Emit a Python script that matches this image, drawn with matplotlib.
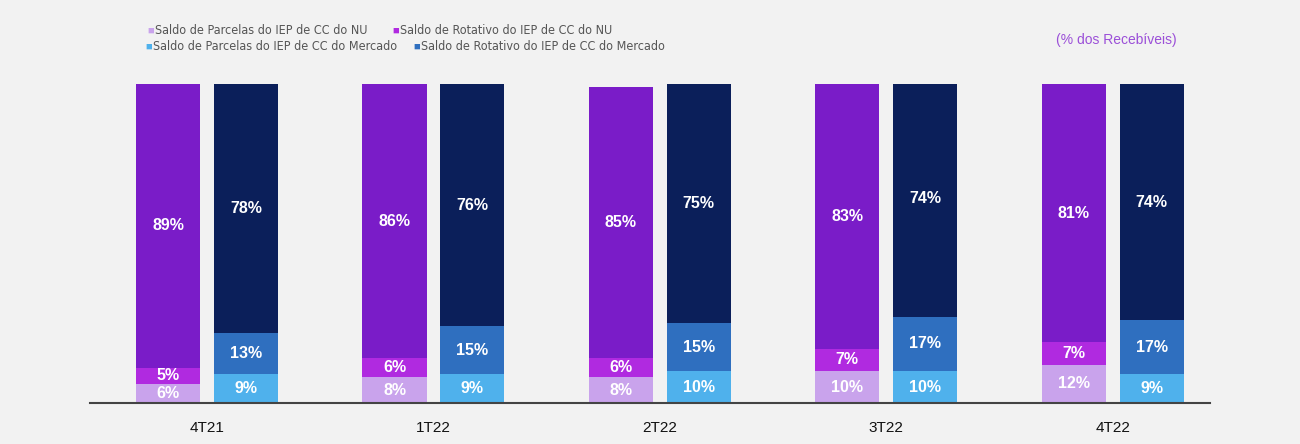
import numpy as np
import matplotlib.pyplot as plt

plt.rcParams['font.family'] = ['Liberation Sans', 'DejaVu Sans']

periodos = ['4T21', '1T22', '2T22', '3T22', '4T22']
nu_parcelas = [6, 8, 8, 10, 12]
nu_rotativo = [5, 6, 6, 7, 7]
nu_outros = [89, 86, 85, 83, 81]
mer_parcelas = [9, 9, 10, 10, 9]
mer_rotativo = [13, 15, 15, 17, 17]
mer_outros = [78, 76, 75, 74, 74]

bg = '#f2f2f2'
fig = plt.figure(figsize=(13, 4.44), dpi=100, facecolor=bg)
ax = fig.add_axes([90 / 1300, 41 / 444, 1120 / 1300, 319 / 444], facecolor=bg)

x = np.arange(len(periodos))
w = 0.283
off = 0.172

def stack(xpos, series, colors):
    bottom = np.zeros(len(xpos))
    for vals, c in zip(series, colors):
        vals = np.array(vals, dtype=float)
        ax.bar(xpos, vals, w, bottom=bottom, color=c, edgecolor='none')
        for xi, b, v in zip(xpos, bottom, vals):
            ax.text(xi, b + v / 2, f'{int(v)}%', ha='center', va='center',
                    color='white', fontsize=11.5, fontweight='bold')
        bottom += vals

stack(x - off, [nu_parcelas, nu_rotativo, nu_outros], ['#c9a3ec', '#b02ae0', '#7a1cc8'])
stack(x + off, [mer_parcelas, mer_rotativo, mer_outros], ['#4fb1ec', '#2f6fbf', '#0b1f5a'])

ax.set_xlim(-0.517, 4.43)
ax.set_ylim(0, 100)
for s in ['top', 'right', 'left']:
    ax.spines[s].set_visible(False)
ax.spines['bottom'].set_color('#444444')
ax.spines['bottom'].set_linewidth(1.5)
ax.set_yticks([])
ax.set_xticks(x)
ax.set_xticklabels(periodos, fontsize=11, color='#111111')
ax.tick_params(axis='x', length=0, pad=13)

# legenda
leg = [
    (147, 31, '#c9a3ec', 'Saldo de Parcelas do IEP de CC do NU'),
    (392, 31, '#b02ae0', 'Saldo de Rotativo do IEP de CC do NU'),
    (145, 47, '#4fb1ec', 'Saldo de Parcelas do IEP de CC do Mercado'),
    (413, 47, '#2f6fbf', 'Saldo de Rotativo do IEP de CC do Mercado'),
]
for px, py, c, t in leg:
    fig.text(px / 1300, 1 - py / 444, '■', color=c, fontsize=8, va='center', ha='left')
    fig.text((px + 8) / 1300, 1 - py / 444, t, color='#555555', fontsize=9,
             family='DejaVu Sans', stretch='condensed', va='center', ha='left')

fig.text(1116 / 1300, 1 - 40 / 444, '(% dos Recebíveis)', color='#9b4fd8',
         fontsize=10, ha='center', va='center')

fig.savefig('out.png', dpi=100, facecolor=bg)
